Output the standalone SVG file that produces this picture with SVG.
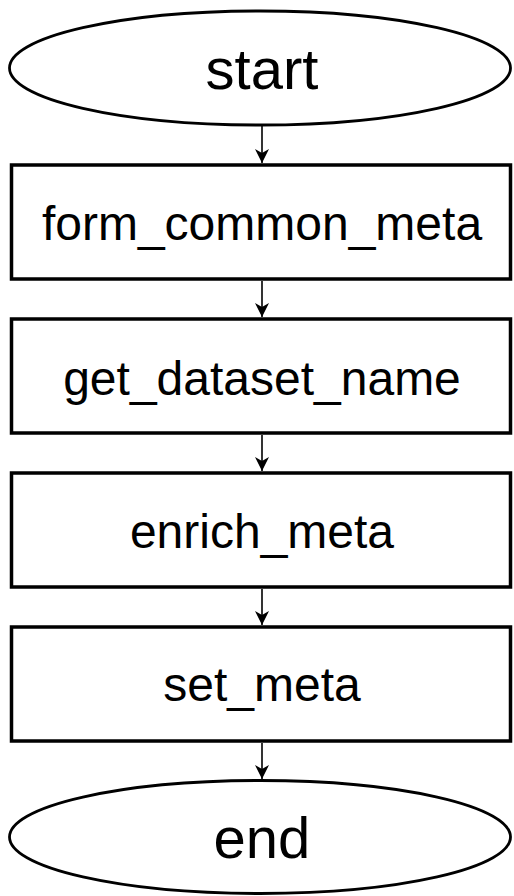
<svg xmlns="http://www.w3.org/2000/svg" width="514" height="896" viewBox="0 0 514 896">
<style>
.node{fill:#fff;stroke:#000;stroke-width:3.5}
.term{fill:#fff;stroke:#000;stroke-width:2.8}
.lbl{font-family:"Liberation Sans",Arial,sans-serif;font-size:48px;fill:#000;text-anchor:middle}
.tlbl{font-family:"Liberation Sans",Arial,sans-serif;font-size:58px;fill:#000;text-anchor:middle}
.edge{stroke:#000;stroke-width:1.6;fill:none;marker-end:url(#ah)}
</style>
<defs>
<marker id="ah" markerWidth="14" markerHeight="14" refX="14" refY="7" orient="auto" markerUnits="userSpaceOnUse">
<path d="M0,0 L14,7 L0,14 L4,7 Z" fill="#000"/>
</marker>
</defs>
<rect width="514" height="896" fill="#fff"/>
<g id="connectors">
<line class="edge" x1="262" y1="126" x2="262" y2="163"/>
<line class="edge" x1="262" y1="281" x2="262" y2="317"/>
<line class="edge" x1="262" y1="435" x2="262" y2="471"/>
<line class="edge" x1="262" y1="589" x2="262" y2="625"/>
<line class="edge" x1="262" y1="743" x2="262" y2="779"/>
</g>
<g id="start">
<ellipse class="term" cx="260" cy="68" rx="250.5" ry="57"/>
<text class="tlbl" x="262" y="89">start</text>
</g>
<g id="form_common_meta">
<rect class="node" x="11.5" y="165" width="499" height="114"/>
<text class="lbl" x="262" y="240">form_common_meta</text>
</g>
<g id="get_dataset_name">
<rect class="node" x="11.5" y="319" width="499" height="114"/>
<text class="lbl" x="262" y="395">get_dataset_name</text>
</g>
<g id="enrich_meta">
<rect class="node" x="11.5" y="473" width="499" height="114"/>
<text class="lbl" x="262" y="548">enrich_meta</text>
</g>
<g id="set_meta">
<rect class="node" x="11.5" y="627" width="499" height="114"/>
<text class="lbl" x="262" y="701">set_meta</text>
</g>
<g id="end">
<ellipse class="term" cx="260" cy="837" rx="250.5" ry="56.5"/>
<text class="tlbl" x="262" y="858">end</text>
</g>
</svg>
